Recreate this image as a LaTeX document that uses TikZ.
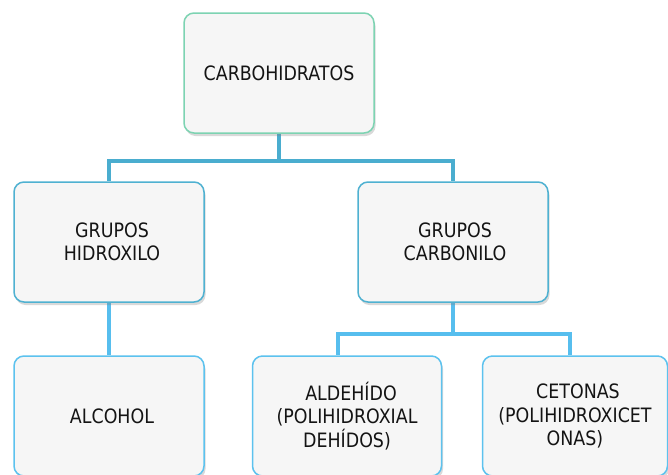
\documentclass[tikz,border=0pt]{standalone}
\usepackage{fontspec}
\setmainfont{DejaVu Sans}[FakeStretch=0.88]
\usepackage{tikz}
\usetikzlibrary{positioning,shadows,backgrounds}
\definecolor{boxfill}{HTML}{F6F6F6}
\definecolor{topedge}{HTML}{7DD3B2}
\definecolor{midedge}{HTML}{4FB1D1}
\definecolor{lowedge}{HTML}{5CC2EE}
\definecolor{midline}{HTML}{4AADCF}
\definecolor{lowline}{HTML}{57BEEE}
\definecolor{ink}{HTML}{141414}

\begin{document}
\begin{tikzpicture}[x=1pt,y=-1pt,
    conceptbox/.style={draw,line width=1.5pt,fill=boxfill,rounded corners=10pt,
      minimum width=190pt,minimum height=120pt,inner sep=0pt,text=ink,
      align=center,font=\fontsize{19.8}{23.5}\selectfont,
      drop shadow={shadow xshift=1.5pt,shadow yshift=-3pt,opacity=0.3,fill=gray}},
    branch/.style={line width=4pt}]
  \useasboundingbox (0,0) rectangle (668,474);
  \clip (0,0) rectangle (668,474);
  % Root
  \node[conceptbox,draw=topedge] (carb) at (279,73) {CARBOHIDRATOS};
  % Functional groups
  \node[conceptbox,draw=midedge] (hidr) at (109,242) {\hspace*{6pt}GRUPOS\\\hspace*{6pt}HIDROXILO};
  \node[conceptbox,draw=midedge] (carbo) at (453,242) {\hspace*{4pt}GRUPOS\\\hspace*{4pt}CARBONILO};
  % Compounds
  \node[conceptbox,draw=lowedge] (alc) at (109,416) {\hspace*{6pt}ALCOHOL};
  \node[conceptbox,draw=lowedge,minimum width=189pt] (alde) at (347,416)
    {\hspace*{8pt}ALDEHÍDO\\(POLIHIDROXIAL\\DEHÍDOS)};
  \node[conceptbox,draw=lowedge,minimum width=185pt] (ceto) at (575,416)
    {\hspace*{6pt}CETONAS\\(POLIHIDROXICET\\ONAS)};
  % Connectors
  \begin{scope}[on background layer]
    \draw[branch,midline] (carb.south) -- ++(0,27) -| (hidr.north);
    \draw[branch,midline] (carb.south) -- ++(0,27) -| (carbo.north);
    \draw[branch,lowline] (hidr.south) -- (alc.north);
    \draw[branch,lowline] (carbo.south) -- ++(0,31) -| ([xshift=-9pt]alde.north);
    \draw[branch,lowline] (carbo.south) -- ++(0,31) -| ([xshift=-5pt]ceto.north);
  \end{scope}
\end{tikzpicture}
\end{document}
